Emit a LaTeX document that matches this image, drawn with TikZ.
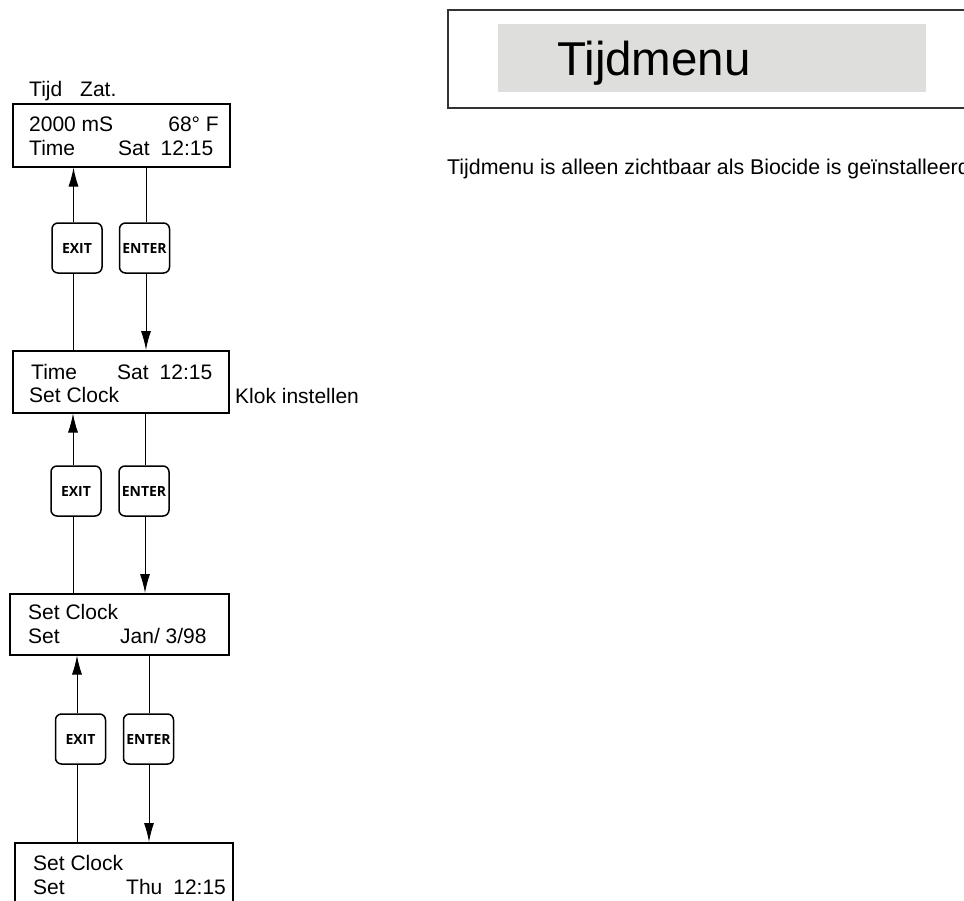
\documentclass[tikz,border=0pt]{standalone}
\usepackage{fontspec}
\setmainfont{Liberation Sans}
\newfontfamily\btnfont{Open Sans}
\usetikzlibrary{arrows.meta}
\definecolor{panelgrey}{HTML}{DEDEDC}
\definecolor{framegrey}{HTML}{333333}
\tikzset{
  lcd/.style={draw=black, line width=1.5pt, rectangle, inner sep=0pt},
  btn/.style={draw=black, line width=1.5pt, rounded corners=6pt, minimum width=50pt, minimum height=50pt, inner sep=0pt, font=\btnfont\bfseries\fontsize{14}{14}\selectfont},
  txt/.style={anchor=base west, inner sep=0pt, font=\fontsize{21}{21}\selectfont},
  txte/.style={anchor=base east, inner sep=0pt, font=\fontsize{21}{21}\selectfont},
  conn/.style={draw=black, line width=1pt},
  arr/.style={conn, -{Latex[length=19pt,width=10pt]}},
}
\begin{document}
\begin{tikzpicture}[x=1pt,y=-1pt]
\useasboundingbox (0,0) rectangle (964,900);
\clip (0,0) rectangle (964,900);

% title panel
\node[draw=framegrey, line width=2pt, minimum width=540pt, minimum height=98pt, inner sep=0pt, anchor=north west] (panel) at (447,9) {};
\node[fill=panelgrey, minimum width=428pt, minimum height=68pt, inner sep=0pt, anchor=north west] (grey) at (498,24) {};
\node[anchor=base west, inner sep=0pt, font=\fontsize{47.5}{47.5}\selectfont] (title) at (557,75) {Tijdmenu};
\node[anchor=base west, inner sep=0pt, font=\fontsize{21.35}{21.35}\selectfont] (desc) at (447,174) {Tijdmenu is alleen zichtbaar als Biocide is geïnstalleerd};

% LCD boxes
\node[lcd, minimum width=217pt, minimum height=63pt, anchor=north west] (b1) at (12,103) {};
\node[lcd, minimum width=216pt, minimum height=62pt, anchor=north west] (b2) at (12,350) {};
\node[lcd, minimum width=219pt, minimum height=61pt, anchor=north west] (b3) at (9,593) {};
\node[lcd, minimum width=218pt, minimum height=70pt, anchor=north west] (b4) at (14,842) {};

% box 1 texts
\node[txt] (t1a) at (29,96) {Tijd};
\node[txt] (t1b) at (80,96) {Zat.};
\node[txt] (l1a) at (29,131) {2000 mS};
\node[txte] (r1a) at (219,131) {68° F};
\node[txt] (l1b) at (29,155) {Time};
\node[txt] (r1b) at (118,155) {Sat\hspace{11pt}12:15};

% box 2 texts
\node[txt] (l2a) at (31,379) {Time};
\node[txt] (r2a) at (117,379) {Sat\hspace{11pt}12:15};
\node[txt] (l2b) at (29,402) {Set Clock};
\node[txt] (k2) at (235,403) {Klok instellen};

% box 3 texts
\node[txt] (l3a) at (28,619) {Set Clock};
\node[txt] (l3b) at (28,643) {Set};
\node[txt] (r3b) at (120,643) {Jan/ 3/98};

% box 4 texts
\node[txt] (l4a) at (33,870) {Set Clock};
\node[txt] (l4b) at (33,894) {Set};
\node[txt] (r4b) at (126,894) {Thu\hspace{11pt}12:15};

% buttons
\node[btn] (ex1) at (77,248) {EXIT};
\node[btn] (en1) at (144.5,248) {ENTER};
\node[btn] (ex2) at (76,491) {EXIT};
\node[btn] (en2) at (144,491) {ENTER};
\node[btn] (ex3) at (80.5,739) {EXIT};
\node[btn] (en3) at (148.5,739) {ENTER};

% connectors pair 1
\draw[arr] ([xshift=-3.5pt]ex1.north) -- ([xshift=-3.5pt]ex1.north |- b1.south);
\draw[conn] ([xshift=-3.5pt]ex1.south) -- ([xshift=-3.5pt]ex1.south |- b2.north);
\draw[conn] ([xshift=1.5pt]en1.north) -- ([xshift=1.5pt]en1.north |- b1.south);
\draw[arr] ([xshift=1.5pt]en1.south) -- ([xshift=1.5pt]en1.south |- b2.north);

% connectors pair 2
\draw[arr] ([xshift=-3pt]ex2.north) -- ([xshift=-3pt]ex2.north |- b2.south);
\draw[conn] ([xshift=-3pt]ex2.south) -- ([xshift=-3pt]ex2.south |- b3.north);
\draw[conn] ([xshift=1pt]en2.north) -- ([xshift=1pt]en2.north |- b2.south);
\draw[arr] ([xshift=1pt]en2.south) -- ([xshift=1pt]en2.south |- b3.north);

% connectors pair 3
\draw[arr] ([xshift=-3.5pt]ex3.north) -- ([xshift=-3.5pt]ex3.north |- b3.south);
\draw[conn] ([xshift=-3.5pt]ex3.south) -- ([xshift=-3.5pt]ex3.south |- b4.north);
\draw[conn] ([xshift=0.5pt]en3.north) -- ([xshift=0.5pt]en3.north |- b3.south);
\draw[arr] ([xshift=0.5pt]en3.south) -- ([xshift=0.5pt]en3.south |- b4.north);
\end{tikzpicture}
\end{document}
